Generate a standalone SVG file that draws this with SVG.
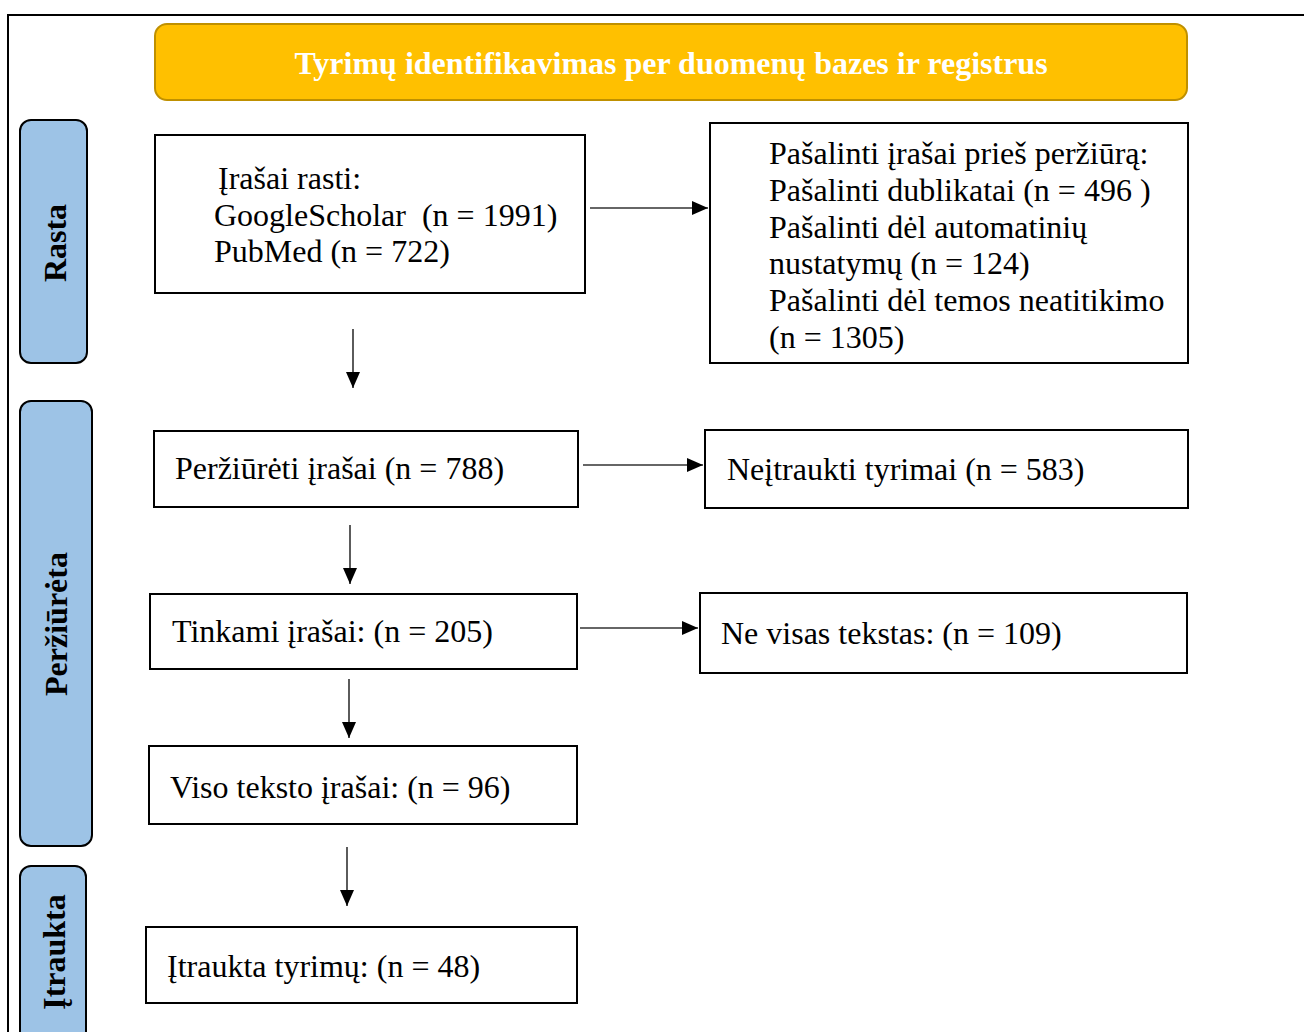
<svg xmlns="http://www.w3.org/2000/svg" width="1304" height="1032" viewBox="0 0 1304 1032">
<style>
.box{fill:#fff;stroke:#000;stroke-width:2}
.side{fill:#9DC3E6;stroke:#000;stroke-width:2}
.t{font-family:"Liberation Serif","Times New Roman",serif;font-size:32px;fill:#000}
.b{font-family:"Liberation Serif","Times New Roman",serif;font-size:32px;font-weight:bold;fill:#000}
.hdr{font-family:"Liberation Serif","Times New Roman",serif;font-size:32px;font-weight:bold;fill:#fff}
.c{stroke:#333;stroke-width:1.6;fill:none;marker-end:url(#ah)}
</style>
<defs>
<marker id="ah" viewBox="0 0 16 14" refX="16" refY="7" markerWidth="16" markerHeight="14" markerUnits="userSpaceOnUse" orient="auto">
<path d="M0,0 L16,7 L0,14 Z" fill="#000"/>
</marker>
</defs>
<rect width="1304" height="1032" fill="#fff"/>
<path d="M8,1032 V15 H1304" fill="none" stroke="#000" stroke-width="2"/>
<g id="header">
<rect x="155" y="24" width="1032" height="76" rx="12" fill="#FFC000" stroke="#BF9000" stroke-width="2"/>
<text class="hdr" x="671" y="74" text-anchor="middle">Tyrimų identifikavimas per duomenų bazes ir registrus</text>
</g>
<g id="side-rasta">
<rect class="side" x="20" y="120" width="67" height="243" rx="11"/>
<text class="b" transform="translate(66,243) rotate(-90)" text-anchor="middle">Rasta</text>
</g>
<g id="side-perziureta">
<rect class="side" x="20" y="401" width="72" height="445" rx="11"/>
<text class="b" transform="translate(67,624) rotate(-90)" text-anchor="middle">Peržiūrėta</text>
</g>
<g id="side-itraukta">
<rect class="side" x="20" y="866" width="66" height="200" rx="11"/>
<text class="b" transform="translate(65,952) rotate(-90)" text-anchor="middle">Įtraukta</text>
</g>
<g id="n1">
<rect class="box" x="155" y="135" width="430" height="158"/>
<text class="t" x="218" y="189">Įrašai rasti:</text>
<text class="t" x="214" y="226" xml:space="preserve">GoogleScholar  (n = 1991)</text>
<text class="t" x="214" y="262">PubMed (n = 722)</text>
</g>
<g id="n2">
<rect class="box" x="710" y="123" width="478" height="240"/>
<text class="t" x="769" y="164">Pašalinti įrašai prieš peržiūrą:</text>
<text class="t" x="769" y="201">Pašalinti dublikatai (n = 496 )</text>
<text class="t" x="769" y="238">Pašalinti dėl automatinių</text>
<text class="t" x="769" y="274">nustatymų (n = 124)</text>
<text class="t" x="769" y="311">Pašalinti dėl temos neatitikimo</text>
<text class="t" x="769" y="348">(n = 1305)</text>
</g>
<g id="n3">
<rect class="box" x="154" y="431" width="424" height="76"/>
<text class="t" x="175" y="479">Peržiūrėti įrašai (n = 788)</text>
</g>
<g id="n4">
<rect class="box" x="705" y="430" width="483" height="78"/>
<text class="t" x="727" y="480">Neįtraukti tyrimai (n = 583)</text>
</g>
<g id="n5">
<rect class="box" x="150" y="594" width="427" height="75"/>
<text class="t" x="172" y="642">Tinkami įrašai: (n = 205)</text>
</g>
<g id="n6">
<rect class="box" x="700" y="593" width="487" height="80"/>
<text class="t" x="721" y="644">Ne visas tekstas: (n = 109)</text>
</g>
<g id="n7">
<rect class="box" x="149" y="746" width="428" height="78"/>
<text class="t" x="170" y="798">Viso teksto įrašai: (n = 96)</text>
</g>
<g id="n8">
<rect class="box" x="146" y="927" width="431" height="76"/>
<text class="t" x="167" y="977">Įtraukta tyrimų: (n = 48)</text>
</g>
<g id="connectors">
<line class="c" x1="590" y1="208" x2="708" y2="208"/>
<line class="c" x1="353" y1="329" x2="353" y2="388"/>
<line class="c" x1="583" y1="465" x2="703" y2="465"/>
<line class="c" x1="350" y1="525" x2="350" y2="584"/>
<line class="c" x1="580" y1="628" x2="698" y2="628"/>
<line class="c" x1="349" y1="679" x2="349" y2="738"/>
<line class="c" x1="347" y1="847" x2="347" y2="906"/>
</g>
</svg>
